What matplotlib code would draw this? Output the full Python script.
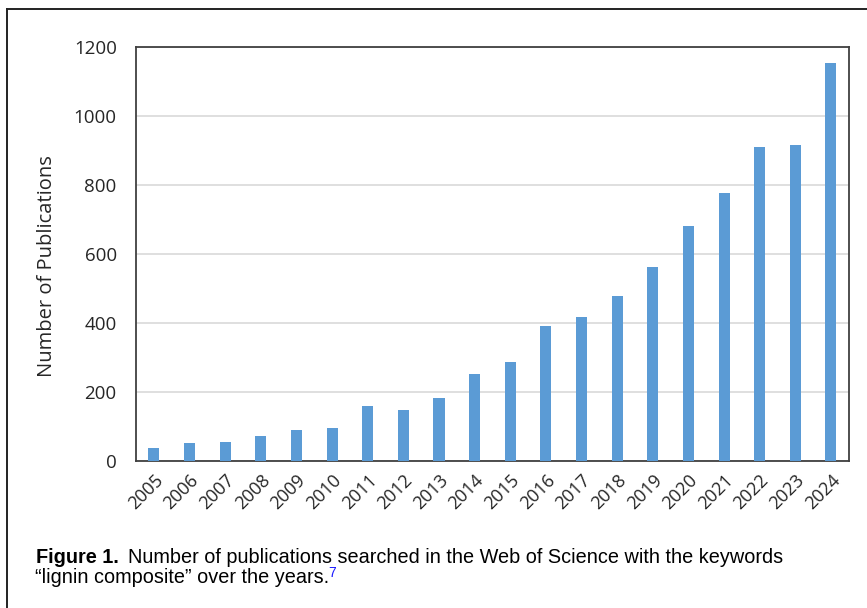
import matplotlib.pyplot as plt
from matplotlib.lines import Line2D

# publications per year
years = ["2005", "2006", "2007", "2008", "2009", "2010", "2011", "2012", "2013", "2014",
         "2015", "2016", "2017", "2018", "2019", "2020", "2021", "2022", "2023", "2024"]
counts = [37, 51, 56, 72, 91, 95, 160, 148, 184, 252,
          287, 391, 416, 478, 562, 681, 778, 909, 916, 1154]
yticks = [0, 200, 400, 600, 800, 1000, 1200]

fig = plt.figure(figsize=(8.67, 6.08), dpi=100)
ax = fig.add_axes([0.157, 0.2418, 0.822, 0.6809])

x = list(range(len(years)))
ax.bar(x, counts, width=0.31, color="#5B9BD5", zorder=3)
ax.set_xlim(-0.5, len(years) - 0.5)
ax.set_ylim(0, 1200)
ax.set_yticks(yticks)
ax.set_xticks(x)
ax.set_xticklabels(years, rotation=45, ha="right", rotation_mode="anchor",
                   fontsize=13, family="Open Sans", color="#262626")
for lab in ax.get_yticklabels():
    lab.set_family("Open Sans")
ax.tick_params(axis="y", labelsize=13.5, length=0, pad=14, colors="#262626")
ax.tick_params(axis="x", length=0, pad=7)
ax.yaxis.grid(True, color="#d9d9d9", linewidth=1.2, zorder=0)
for s in ax.spines.values():
    s.set_color("#404040")
    s.set_linewidth(1.3)
ax.set_ylabel("Number of Publications", fontsize=14.5, family="Open Sans",
              color="#262626")
ax.yaxis.set_label_coords(-0.111, 0.47)

# caption
cap_font = dict(fontsize=14.3, family="Liberation Sans", va="baseline")
y1 = 1 - 563 / 608
y2 = 1 - 583 / 608
fig.text(36 / 867, y1, "Figure 1.", fontweight="bold", **cap_font)
fig.text(128 / 867, y1, "Number of publications searched in the Web of Science with the keywords",
         **cap_font)
t2 = fig.text(35 / 867, y2, "\u201clignin composite\u201d over the years.", **cap_font)
r = fig.canvas.get_renderer()
bb = t2.get_window_extent(r)
fig.text((bb.x1 - 1) / 867, y2 + 6 / 608, "7", fontsize=10, family="Liberation Sans",
         color="#1a1aff", va="baseline")

# outer frame (top and left edges)
fig.add_artist(Line2D([7 / 867, 1.0], [1 - 9 / 608, 1 - 9 / 608], color="#222222",
                      linewidth=1.4, transform=fig.transFigure))
fig.add_artist(Line2D([7 / 867, 7 / 867], [0.0, 1 - 9 / 608], color="#222222",
                      linewidth=1.4, transform=fig.transFigure))

fig.savefig("out.png", dpi=100)
